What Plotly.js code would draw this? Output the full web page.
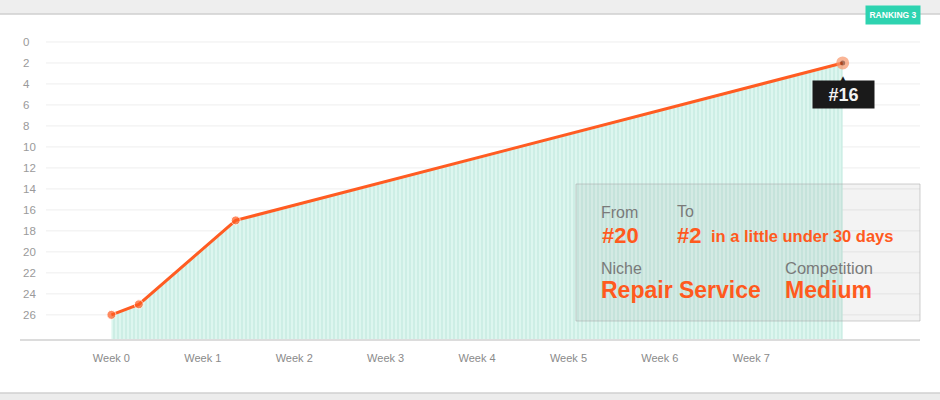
<!DOCTYPE html>
<html>
<head>
<meta charset="utf-8">
<script src="https://cdn.plot.ly/plotly-3.0.1.min.js"></script>
<style>
  html, body { margin: 0; padding: 0; background: #ffffff; }
  #chart { width: 940px; height: 400px; }
</style>
</head>
<body>
<div id="chart"></div>
<script>
// ---- data ----
const weeks = [0, 0.3, 1.36, 8.0];          // position in weeks
const ranks = [26, 25, 17, 2];              // ranking (lower = better)
const tickWeeks = [0, 1, 2, 3, 4, 5, 6, 7];
const tickLabels = ["Week 0", "Week 1", "Week 2", "Week 3", "Week 4", "Week 5", "Week 6", "Week 7"];
const rankTicks = [0, 2, 4, 6, 8, 10, 12, 14, 16, 18, 20, 22, 24, 26];
const tooltipText = "#16";
const badgeText = "RANKING 3";

// ---- styling / layout ----
const FONT = "Liberation Sans, Arial, Helvetica, sans-serif";
const ORANGE = "#ff5a1e";
const yRange = [28.3, -1.14];
const xRange = [-1.0, 8.846];
const baseline = weeks.map(() => yRange[0]);

const W = 940, H = 400, ML = 20, MR = 20, MT = 30, MB = 61;
const PW = W - ML - MR, PH = H - MT - MB;
const px = x => (x - ML) / PW;          // pixel x -> paper
const py = y => (H - MB - y) / PH;      // pixel y -> paper

const traces = [
  {
    x: weeks, y: baseline, type: "scatter", mode: "lines",
    line: { width: 0, color: "rgba(0,0,0,0)" }, hoverinfo: "skip", showlegend: false
  },
  {
    x: weeks, y: ranks, type: "scatter", mode: "lines+markers",
    fill: "tonexty",
    fillcolor: "#dcf6ef",
    fillpattern: { shape: "|", bgcolor: "#ddf6ef", fgcolor: "#c9ede3", size: 4, solidity: 0.4 },
    line: { color: "#ff5c22", width: 3 },
    marker: {
      size: [9, 9, 9, 9],
      color: [ORANGE, ORANGE, ORANGE, "#8a3a1c"],
      line: { color: ["#ffffff", "#ffffff", "#ffffff", "#f8966a"], width: [1, 1, 1, 4] }
    },
    cliponaxis: false, hoverinfo: "skip", showlegend: false
  }
];

const shapes = [];
// gridlines
rankTicks.forEach(v => shapes.push({
  type: "line", xref: "paper", yref: "y", x0: px(46), x1: 1, y0: v, y1: v,
  line: { color: "#eeeeee", width: 1 }, layer: "below"
}));
// top band
shapes.push({ type: "rect", xref: "paper", yref: "paper", x0: px(0), x1: px(W), y0: py(14), y1: py(0),
  fillcolor: "#eeeeee", line: { width: 0 }, layer: "below" });
shapes.push({ type: "line", xref: "paper", yref: "paper", x0: px(0), x1: px(W), y0: py(14), y1: py(14),
  line: { color: "#cfcfcf", width: 1.5 }, layer: "below" });
// bottom band
shapes.push({ type: "rect", xref: "paper", yref: "paper", x0: px(0), x1: px(W), y0: py(400), y1: py(393),
  fillcolor: "#ececec", line: { width: 0 }, layer: "below" });
shapes.push({ type: "line", xref: "paper", yref: "paper", x0: px(0), x1: px(W), y0: py(393), y1: py(393),
  line: { color: "#d0d0d0", width: 1.5 }, layer: "below" });
// info box
shapes.push({ type: "rect", xref: "paper", yref: "paper", x0: px(576), x1: px(920), y0: py(321), y1: py(184),
  fillcolor: "rgba(120,120,120,0.09)", line: { color: "rgba(170,170,170,0.55)", width: 1 }, layer: "above" });

const ann = (text, x, y, size, color, bold) => ({
  text: bold ? "<b>" + text + "</b>" : text,
  xref: "paper", yref: "paper", x: px(x), y: py(y), xanchor: "left", yanchor: "middle",
  showarrow: false, font: { family: FONT, size: size, color: color }
});

const annotations = [
  ann("From", 599, 212, 16, "#7a7a7a", false),
  ann("#20", 600, 235, 22, ORANGE, true),
  ann("To", 675, 211, 16, "#7a7a7a", false),
  ann("#2", 675, 235, 22, ORANGE, true),
  ann("in a little under 30 days", 709, 236, 16.5, ORANGE, true),
  ann("Niche", 599, 268, 16, "#7a7a7a", false),
  ann("Repair Service", 599, 290, 23, ORANGE, true),
  ann("Competition", 783, 268, 16.5, "#7a7a7a", false),
  ann("Medium", 783, 290, 23, ORANGE, true),
  // tooltip
  {
    text: "<b>" + tooltipText + "</b>", x: weeks[3], y: ranks[3], xref: "x", yref: "y",
    xanchor: "center", yanchor: "middle",
    showarrow: false, yshift: -31.5, xshift: 0.5,
    bgcolor: "#1a1a1a", width: 61, height: 27, borderpad: 0,
    font: { family: FONT, size: 18, color: "#f2f2f2" }
  },
  {
    text: "▲", x: weeks[3], y: ranks[3], xref: "x", yref: "y", showarrow: false,
    xanchor: "center", yanchor: "middle",
    yshift: -16, xshift: 0.5, font: { family: FONT, size: 8, color: "#1a1a1a" }
  },
  // badge
  {
    text: "<b>" + badgeText + "</b>", xref: "paper", yref: "paper", x: px(893), y: py(15),
    xanchor: "center", yanchor: "middle",
    showarrow: false, bgcolor: "#2ed3b0", width: 54, height: 18, borderpad: 0,
    font: { family: FONT, size: 8.5, color: "#ffffff" }
  }
];

const layout = {
  width: W, height: H,
  margin: { l: ML, r: MR, t: MT, b: MB, pad: 0 },
  paper_bgcolor: "#ffffff", plot_bgcolor: "rgba(0,0,0,0)",
  showlegend: false,
  xaxis: {
    range: xRange, tickvals: tickWeeks, ticktext: tickLabels,
    showgrid: false, zeroline: false, showline: true, linecolor: "#dcdcdc", linewidth: 2,
    ticks: "", ticklabelstandoff: 8,
    tickfont: { family: FONT, size: 11, color: "#8a8a8a" }, fixedrange: true
  },
  yaxis: {
    range: yRange, tickvals: rankTicks, showgrid: false, zeroline: false, showline: false,
    ticks: "", ticklabelposition: "inside",
    tickfont: { family: FONT, size: 11.5, color: "#9a9a9a" }, fixedrange: true
  },
  shapes: shapes,
  annotations: annotations
};

Plotly.newPlot("chart", traces, layout, { displayModeBar: false, staticPlot: true });
</script>
</body>
</html>
